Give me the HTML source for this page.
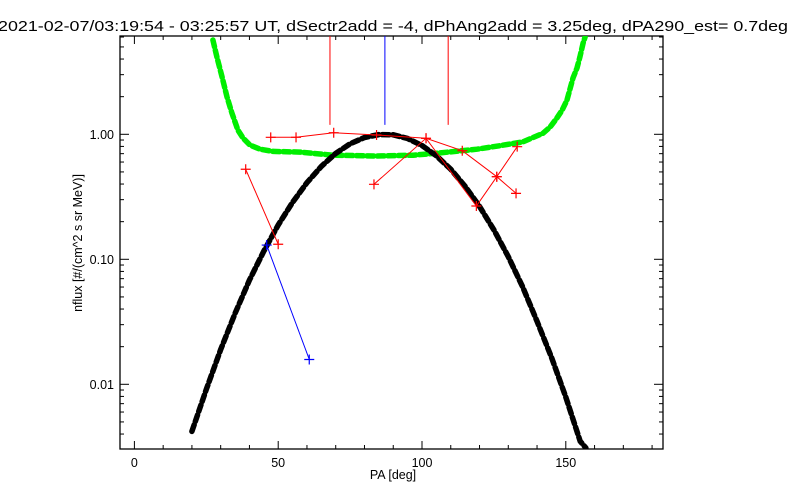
<!DOCTYPE html>
<html><head><meta charset="utf-8"><style>
html,body{margin:0;padding:0;background:#fff;}
svg{display:block;font-family:"Liberation Sans",sans-serif;}
</style></head><body>
<svg id="chart" width="800" height="500" viewBox="0 0 800 500" xmlns="http://www.w3.org/2000/svg">
<rect width="800" height="500" fill="#fff"/>
<text x="-2" y="31" font-size="14.5" textLength="790" lengthAdjust="spacingAndGlyphs" fill="#000">2021-02-07/03:19:54 - 03:25:57 UT, dSectr2add = -4, dPhAng2add = 3.25deg, dPA290_est=   0.7deg</text>
<g id="axes"></g>
<g id="marks"></g>
<text x="393" y="479" font-size="12.5" text-anchor="middle">PA [deg]</text>
<text transform="translate(82,243) rotate(-90)" font-size="12.5" text-anchor="middle">nflux [#/(cm^2 s sr MeV)]</text>
</svg>
<script>
// ---- data ----
const xTicks = [0, 50, 100, 150];
const xTickLabels = ["0", "50", "100", "150"];
const yTicks = [1, 0.1, 0.01];
const yTickLabels = ["1.00", "0.10", "0.01"];

const greenPA = [27.3,28.7,30.5,32.2,33.9,36.0,37.8,40.2,43.7,48.2,57.6,69.1,84.4,96.9,106.3,119.1,127.1,135.1,142.1,144.5,146.9,148.7,150.4,152.5,153.9,154.9,156.0,156.7];
const greenFlux = [5.68,4.15,2.87,1.99,1.48,1.08,0.93,0.82,0.76,0.73,0.72,0.68,0.67,0.68,0.71,0.76,0.81,0.87,1.02,1.14,1.35,1.56,1.88,2.82,3.39,4.15,5.37,6.0];

const blackPA = [20,25,30,35,40,45,50,55,60,65,70,75,80,85,90,95,100,105,110,115,120,125,130,135,140,145,150,155,157];
const blackFlux = [0.0042,0.0091,0.019,0.037,0.068,0.116,0.188,0.286,0.411,0.554,0.703,0.839,0.942,0.995,0.99,0.925,0.813,0.673,0.525,0.384,0.265,0.172,0.105,0.060,0.032,0.0165,0.0079,0.0035,0.0031];

const redAPA = [38.7, 50.0];
const redAFlux = [0.525, 0.132];
const blueAPA = [46.0, 60.8];
const blueAFlux = [0.130, 0.0158];
const redBPA = [47.4,56.2,69.3,84.2,101.4,114.0,126.0,132.7];
const redBFlux = [0.946,0.946,1.03,0.987,0.929,0.739,0.458,0.337];
const redCPA = [83.3,101.4,118.9,126.0,133.1];
const redCFlux = [0.398,0.929,0.267,0.458,0.796];

const vLinePA = [68.0, 87.1, 109.1];
const vLineColors = ["#ff0000", "#0000ff", "#ff0000"];
const vLineBottom = 1.19;

// ---- axis functions ----
const L=120, R=663, T=36, B=449;
function xs(d){ return 134.4 + 2.876*d; }
function ys(v){ return 134.3 - 125*Math.log10(v); }

const NS="http://www.w3.org/2000/svg";
const axes=document.getElementById('axes');
const marks=document.getElementById('marks');
function mk(tag, attrs, parent){
  const e=document.createElementNS(NS,tag);
  for(const k in attrs) e.setAttribute(k, attrs[k]);
  parent.appendChild(e); return e;
}

// frame
const frame=mk('rect',{x:L,y:T,width:R-L,height:B-T,fill:'none',stroke:'#000','stroke-width':1.3},axes);



// x ticks
for(let d=0; d<=180; d+=10){
  const x=xs(d), len=(d%50===0)?8:4;
  const t1=mk('line',{x1:x,x2:x,y1:B,y2:B-len,stroke:'#000'},axes);
  
  
  const t2=mk('line',{x1:x,x2:x,y1:T,y2:T+len,stroke:'#000'},axes);
  
  
}
xTicks.forEach((d,i)=>{
  const t=mk('text',{x:xs(d),y:467,'font-size':12.5,'text-anchor':'middle'},axes);
  t.textContent=xTickLabels[i];
  
  
});
// y ticks
for(let e=-3; e<=0; e++){
  for(let m=1; m<=9; m++){
    const v=m*Math.pow(10,e);
    const y=ys(v);
    if(y<T||y>B) continue;
    const len=(m===1)?9:4;
    const a=mk('line',{x1:L,x2:L+len,y1:y,y2:y,stroke:'#000'},axes);
    
    
    const b=mk('line',{x1:R,x2:R-len,y1:y,y2:y,stroke:'#000'},axes);
    
    
  }
}
yTicks.forEach((v,i)=>{
  const t=mk('text',{x:114,y:ys(v)+4.5,'font-size':12.5,'text-anchor':'end'},axes);
  t.textContent=yTickLabels[i];
  
  
});

function pts(pa, fl){ return pa.map((d,i)=>xs(d).toFixed(1)+','+ys(fl[i]).toFixed(1)).join(' '); }

// clip
const cp=mk('clipPath',{id:'clip'},marks);
mk('rect',{x:L,y:T,width:R-L,height:B-T},cp);
const g=mk('g',{'clip-path':'url(#clip)'},marks);

// vertical lines
vLinePA.forEach((d,i)=>{
  const l=mk('line',{x1:xs(d),x2:xs(d),y1:T,y2:ys(vLineBottom),stroke:vLineColors[i],'stroke-width':1},g);
  
  
});

// green curve
const gr=mk('polyline',{points:pts(greenPA,greenFlux),fill:'none',stroke:'#00ee00','stroke-width':5.5,'stroke-dasharray':'7 3.5','stroke-linecap':'round'},g);



// black curve
const bk=mk('polyline',{points:pts(blackPA,blackFlux),fill:'none',stroke:'#000','stroke-width':5.5,'stroke-dasharray':'7 3.5','stroke-linecap':'round'},g);



function series(pa, fl, color, name){
  const p=mk('polyline',{points:pts(pa,fl),fill:'none',stroke:color,'stroke-width':1},g);
  
  
  pa.forEach((d,i)=>{
    const x=xs(d), y=ys(fl[i]);
    const c=mk('path',{d:`M${x-5},${y}H${x+5}M${x},${y-5}V${y+5}`,stroke:color,'stroke-width':1.2},g);
    
    
  });
}
series(redAPA, redAFlux, '#ff0000', 'red-series-a');
series(blueAPA, blueAFlux, '#0000ff', 'blue-series');
series(redBPA, redBFlux, '#ff0000', 'red-series-b');
series(redCPA, redCFlux, '#ff0000', 'red-series-c');
</script>
</body></html>
